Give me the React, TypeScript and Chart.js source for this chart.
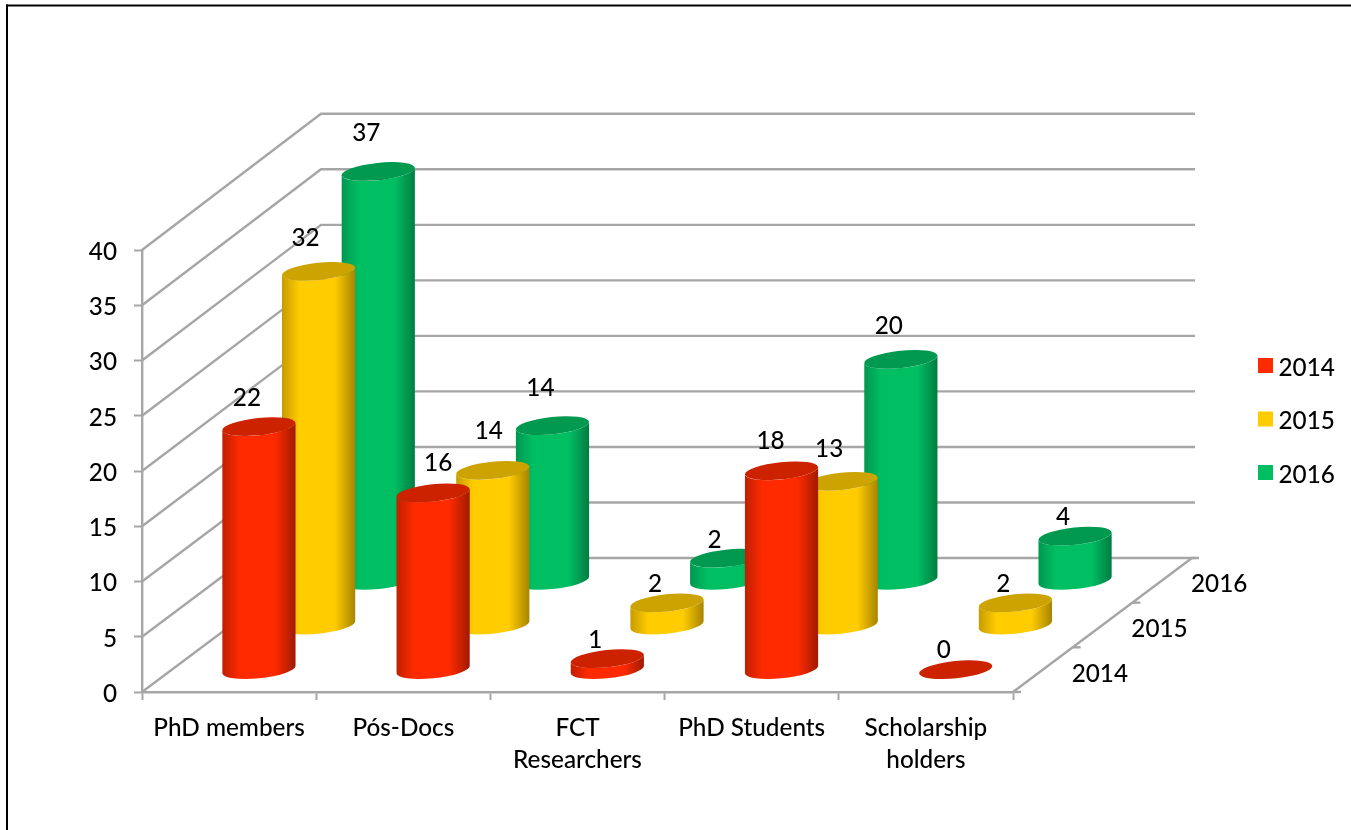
import React, { useEffect, useRef } from "react";
import { Chart, registerables } from "chart.js";

Chart.register(...registerables);

const categories = [
  "PhD members",
  "Pós-Docs",
  ["FCT", "Researchers"],
  "PhD Students",
  ["Scholarship", "holders"],
];
const seriesNames = ["2014", "2015", "2016"];
const values2014 = [22, 16, 1, 18, 0];
const values2015 = [32, 14, 2, 13, 2];
const values2016 = [37, 14, 2, 20, 4];
const yTickMax = 40;
const yTickStep = 5;

const FONT = "Lato, Carlito, 'Open Sans', sans-serif";
const FONT_SIZE = 24.3;
const FONT_WEIGHT = 500;
const GRAY = "#a6a6a6";

const styles = [
  { flat: "#ff2a00", edgeL: "#bf2000", edgeR: "#a01a00", cap: "#cc2200" },
  { flat: "#ffcc00", edgeL: "#c79c00", edgeR: "#a88400", cap: "#cca300" },
  { flat: "#00bf63", edgeL: "#009750", edgeR: "#007d42", cap: "#00994f" },
];

// Depth of the floor, and how far each data label floats from its cap.
const DEPTH_X = 179;
const DEPTH_Y = -134;
const BACK_WALL_STRETCH = 1.005;
const labelLift = [
  [28, 30, 18, 30, 20],
  [33, 39, 19, 32, 19],
  [38, 37, 18, 33, 19],
];
const labelShift = [
  [-12, 5, -12, -11, -12],
  [-13, -4, -12, -12, -12],
  [-12, -12, -12, -12, -12],
];

const rowOffset = (row: number) => {
  const f = (row * 2 + 1) / (seriesNames.length * 2);
  return { x: DEPTH_X * f, y: DEPTH_Y * f };
};

const ROT = (-6 * Math.PI) / 180;
const MINOR = 8.6;

function cylinder(ctx: any, cx: number, base: number, top: number, halfW: number, s: any) {
  const a = halfW / Math.cos(ROT);
  const t0 = Math.atan2(-MINOR * Math.sin(ROT), a * Math.cos(ROT));
  if (base - top > 0.5) {
    const g = ctx.createLinearGradient(cx - halfW, 0, cx + halfW, 0);
    g.addColorStop(0, s.edgeL);
    g.addColorStop(0.24, s.flat);
    g.addColorStop(0.72, s.flat);
    g.addColorStop(1, s.edgeR);
    ctx.beginPath();
    ctx.ellipse(cx, base, a, MINOR, ROT, t0, t0 + Math.PI, false);
    ctx.ellipse(cx, top, a, MINOR, ROT, t0 + Math.PI, t0, true);
    ctx.closePath();
    ctx.fillStyle = g;
    ctx.fill();
  }
  ctx.beginPath();
  ctx.ellipse(cx, top, a, MINOR, ROT, 0, Math.PI * 2);
  ctx.fillStyle = s.cap;
  ctx.fill();
}

const scene3d = {
  id: "scene3d",
  beforeDraw(chart: any) {
    const { ctx } = chart;
    ctx.save();
    ctx.fillStyle = "#000";
    ctx.fillRect(6, 4.5, chart.width - 6, 2);
    ctx.fillRect(6, 4.5, 2, chart.height - 4.5);
    ctx.restore();
  },
  beforeDatasetsDraw(chart: any) {
    const { ctx, scales } = chart;
    const { x: xs, y: ys } = scales;
    const left = xs.left;
    const right = xs.right;
    const floor = ys.getPixelForValue(0);
    ctx.save();
    ctx.strokeStyle = GRAY;
    ctx.lineWidth = 2.4;
    for (const tick of ys.ticks) {
      const y = ys.getPixelForValue(tick.value);
      const backY = floor + DEPTH_Y - (floor - y) * BACK_WALL_STRETCH;
      ctx.beginPath();
      ctx.moveTo(left, y);
      ctx.lineTo(left + DEPTH_X, backY);
      ctx.lineTo(right + DEPTH_X + 3, backY);
      ctx.stroke();
    }
    ctx.beginPath();
    ctx.moveTo(right, floor);
    ctx.lineTo(right + DEPTH_X, floor + DEPTH_Y);
    ctx.lineTo(right + DEPTH_X + 7, floor + DEPTH_Y);
    ctx.stroke();
    ctx.beginPath();
    ctx.moveTo(right, floor);
    ctx.lineTo(right + 8, floor);
    ctx.stroke();
    ctx.fillStyle = "#000";
    ctx.font = `${FONT_WEIGHT} ${FONT_SIZE}px ${FONT}`;
    ctx.textAlign = "center";
    ctx.textBaseline = "middle";
    seriesNames.forEach((name, row) => {
      const o = rowOffset(row);
      if (row > 0) {
        const tx = right + (DEPTH_X * row) / seriesNames.length;
        const ty = floor + (DEPTH_Y * row) / seriesNames.length;
        ctx.beginPath();
        ctx.moveTo(tx, ty);
        ctx.lineTo(tx + 8, ty);
        ctx.stroke();
      }
      ctx.fillText(name, right + o.x + 57, floor + o.y + 4);
    });
    ctx.restore();
  },
  beforeDatasetDraw(chart: any, args: any) {
    const { ctx, scales } = chart;
    const row = args.index;
    const o = rowOffset(row);
    const zero = scales.y.getPixelForValue(0);
    ctx.save();
    args.meta.data.forEach((el: any) => {
      cylinder(ctx, el.x + o.x, zero + o.y, el.y + o.y, el.width / 2, styles[row]);
    });
    ctx.restore();
    return false;
  },
  afterDatasetsDraw(chart: any) {
    const { ctx } = chart;
    ctx.save();
    ctx.fillStyle = "#000";
    ctx.font = `${FONT_WEIGHT} ${FONT_SIZE}px ${FONT}`;
    ctx.textAlign = "center";
    ctx.textBaseline = "middle";
    chart.data.datasets.forEach((ds: any, row: number) => {
      const o = rowOffset(row);
      chart.getDatasetMeta(row).data.forEach((el: any, i: number) => {
        ctx.fillText(String(ds.data[i]), el.x + o.x + labelShift[row][i], el.y + o.y - labelLift[row][i]);
      });
    });
    // Legend
    chart.data.datasets.forEach((ds: any, row: number) => {
      const cy = 365.5 + row * 53.5;
      ctx.fillStyle = ds.backgroundColor;
      ctx.fillRect(1258, cy - 7.5, 15, 15);
      ctx.fillStyle = "#000";
      ctx.textAlign = "left";
      ctx.fillText(ds.label, 1278.5, cy + 2.5);
    });
    ctx.restore();
  },
};

export default function App() {
  const ref = useRef<HTMLCanvasElement>(null);
  useEffect(() => {
    const axisGrid = {
      display: true,
      drawOnChartArea: false,
      drawTicks: true,
      tickLength: 8,
      tickWidth: 2,
      tickColor: GRAY,
    };
    const chart = new Chart(ref.current as any, {
      type: "bar",
      data: {
        labels: categories as any,
        datasets: [values2014, values2015, values2016].map((data, i) => ({
          label: seriesNames[i],
          data,
          backgroundColor: styles[i].flat,
          grouped: false,
          barPercentage: 1,
          categoryPercentage: 0.42,
        })),
      },
      options: {
        animation: false,
        responsive: false,
        layout: { padding: { top: 250, right: 338 } },
        plugins: { legend: { display: false }, tooltip: { enabled: false } },
        scales: {
          x: {
            grid: { ...axisGrid },
            border: { display: true, color: GRAY, width: 2.4 },
            ticks: {
              color: "#000",
              font: { family: FONT, size: FONT_SIZE, weight: FONT_WEIGHT, lineHeight: 32 / FONT_SIZE },
              padding: 12,
              maxRotation: 0,
              minRotation: 0,
              autoSkip: false,
            },
            afterFit(s: any) {
              s.height = 138;
            },
          },
          y: {
            min: 0,
            max: yTickMax,
            grid: { ...axisGrid },
            border: { display: true, color: GRAY, width: 2.4 },
            ticks: {
              stepSize: yTickStep,
              color: "#000",
              font: { family: FONT, size: FONT_SIZE, weight: FONT_WEIGHT },
              padding: 17,
              labelOffset: 2,
            },
            afterFit(s: any) {
              s.width = 142;
            },
          },
        },
      },
      plugins: [scene3d],
    } as any);
    return () => chart.destroy();
  }, []);
  return (
    <>
      <style>{"html,body{margin:0;background:#fff}canvas{display:block}"}</style>
      <canvas ref={ref} width={1351} height={830} />
    </>
  );
}
